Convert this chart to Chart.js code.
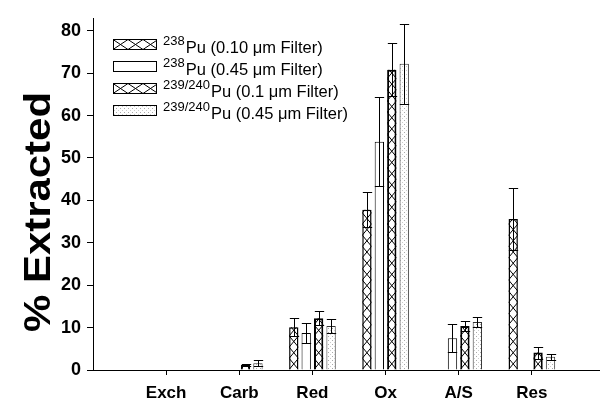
<!DOCTYPE html>
<html>
<head>
<meta charset="utf-8">
<script src="https://cdn.jsdelivr.net/npm/chart.js@4"></script>
<style>
  html, body { margin: 0; padding: 0; background: #fff; }
  canvas { display: block; }
</style>
</head>
<body>
<canvas id="chart" width="600" height="406"></canvas>
<script>
// --- data ---
const categories = ['Exch', 'Carb', 'Red', 'Ox', 'A/S', 'Res'];
const yTicks = [0, 10, 20, 30, 40, 50, 60, 70, 80];

const seriesIso = ['238', '238', '239/240', '239/240'];
const seriesText = ['Pu (0.10 \u03bcm Filter)', 'Pu (0.45 \u03bcm Filter)', 'Pu (0.1 \u03bcm Filter)', 'Pu (0.45 \u03bcm Filter)'];

const pu238_010 = [null, null, 10.1, 37.8, null, 35.6];
const pu238_010Err = [null, null, 2.2, 4.1, null, 7.3];
const pu238_045 = [null, null, 8.7, 53.8, 7.5, null];
const pu238_045Err = [null, null, 2.3, 10.5, 3.3, null];
const pu239_01 = [null, 1.2, 12.2, 70.8, 10.4, 4.1];
const pu239_01Err = [null, 0.2, 1.7, 6.2, 1.2, 1.4];
const pu239_045 = [null, 1.6, 10.4, 72.2, 11.3, 3.1];
const pu239_045Err = [null, 0.7, 1.6, 9.4, 1.2, 0.7];

// an empty slot on both sides of the categories, like the original axis
const pad = arr => [null, ...arr, null];
const labels = ['', ...categories, ''];

const FONT = '"Liberation Sans", Arial, sans-serif';

// light stipple for the last series
const stipple = (() => {
    const c = document.createElement('canvas');
    c.width = 4; c.height = 4;
    const g = c.getContext('2d');
    g.fillStyle = '#fff'; g.fillRect(0, 0, 4, 4);
    g.fillStyle = '#aaa'; g.fillRect(0, 0, 1, 1);
    g.fillStyle = '#ccc'; g.fillRect(2, 2, 1, 1);
    return g.createPattern(c, 'repeat');
})();

function drawZigzag(ctx, left, top, right, bottom, vertical) {
    ctx.save();
    ctx.beginPath();
    ctx.rect(left, top, right - left, bottom - top);
    ctx.clip();
    ctx.strokeStyle = '#000';
    ctx.lineWidth = 1;
    ctx.beginPath();
    if (vertical) {
        const p = (right - left) * 1.2;
        for (let yy = bottom; yy > top - p; yy -= p) {
            ctx.moveTo(left, yy); ctx.lineTo(right, yy - p);
            ctx.moveTo(right, yy); ctx.lineTo(left, yy - p);
        }
    } else {
        const p = (bottom - top) * 1.5;
        for (let xx = left; xx < right; xx += p) {
            ctx.moveTo(xx, bottom); ctx.lineTo(xx + p, top);
            ctx.moveTo(xx, top); ctx.lineTo(xx + p, bottom);
        }
    }
    ctx.stroke();
    ctx.restore();
}

// the original x axis runs a little past the right edge of the picture
const stretchX = {
    id: 'stretchX',
    afterLayout(chart) {
        const s = chart.scales.x;
        s.right = 605;
        s.width = s.right - s.left;
        s.configure();
    }
};

// X hatching drawn inside the bars of series 0 and 2
const hatchPlugin = {
    id: 'hatch',
    afterDatasetDraw(chart, args) {
        const ds = chart.data.datasets[args.index];
        if (!ds.hatched) return;
        args.meta.data.forEach((bar, j) => {
            if (ds.data[j] == null) return;
            const p = bar.getProps(['x', 'y', 'base', 'width'], true);
            drawZigzag(chart.ctx, p.x - p.width / 2, p.y, p.x + p.width / 2, p.base, true);
        });
    }
};

const errorBars = {
    id: 'errorBars',
    afterDatasetsDraw(chart) {
        const ctx = chart.ctx;
        const y = chart.scales.y;
        chart.data.datasets.forEach((ds, i) => {
            const meta = chart.getDatasetMeta(i);
            meta.data.forEach((bar, j) => {
                const v = ds.data[j], e = ds.errors[j];
                if (v == null || e == null) return;
                const top = Math.round(y.getPixelForValue(v + e)) + 0.5;
                const bot = Math.round(y.getPixelForValue(v - e)) + 0.5;
                const x = Math.round(bar.x) + 0.5;
                const half = bar.width / 2;
                ctx.save();
                ctx.strokeStyle = '#000';
                ctx.lineWidth = 1;
                ctx.beginPath();
                ctx.moveTo(x, top); ctx.lineTo(x, bot);
                ctx.moveTo(x - half, top); ctx.lineTo(x + half, top);
                ctx.moveTo(x - half, bot); ctx.lineTo(x + half, bot);
                ctx.stroke();
                ctx.restore();
            });
        });
    }
};

// legend with superscript isotope numbers + the stretched y title
const legendPlugin = {
    id: 'puLegend',
    afterDraw(chart) {
        const ctx = chart.ctx;
        const x0 = 113, w = 43, h = 10, y0 = 44, step = 22;
        chart.data.datasets.forEach((ds, i) => {
            const cy = y0 + i * step;
            const top = Math.round(cy - h / 2) + 0.5;
            ctx.save();
            ctx.fillStyle = ds.backgroundColor;
            ctx.fillRect(x0, top, w, h);
            if (ds.hatched) drawZigzag(ctx, x0, top, x0 + w, top + h, false);
            ctx.strokeStyle = '#000';
            ctx.lineWidth = 1;
            ctx.strokeRect(x0 + 0.5, top, w, h);
            ctx.fillStyle = '#000';
            ctx.textBaseline = 'alphabetic';
            ctx.font = '13px ' + FONT;
            ctx.fillText(seriesIso[i], 163, cy + 1);
            const sw = ctx.measureText(seriesIso[i]).width;
            ctx.font = '16.5px ' + FONT;
            ctx.fillText(seriesText[i], 163 + sw + 1, cy + 9);
            ctx.restore();
        });

        // y title, stretched along its length as in the original
        ctx.save();
        ctx.translate(40, 212);
        ctx.rotate(-Math.PI / 2);
        ctx.font = 'bold 36px ' + FONT;
        const tw = ctx.measureText('% Extracted').width;
        ctx.scale(240 / tw, 1);
        ctx.fillStyle = '#000';
        ctx.textAlign = 'center';
        ctx.textBaseline = 'middle';
        ctx.fillText('% Extracted', 0, 0);
        ctx.restore();
    }
};

const boldFont = size => ({ family: FONT, size: size, weight: 'bold' });

new Chart(document.getElementById('chart'), {
    type: 'bar',
    data: {
        labels: labels,
        datasets: [
            { label: '238Pu (0.10 um Filter)', data: pad(pu238_010), errors: pad(pu238_010Err),
              backgroundColor: '#fff', borderColor: '#000', borderWidth: 1.5, hatched: true },
            { label: '238Pu (0.45 um Filter)', data: pad(pu238_045), errors: pad(pu238_045Err),
              backgroundColor: '#fff', borderColor: '#000', borderWidth: 1 },
            { label: '239/240Pu (0.1 um Filter)', data: pad(pu239_01), errors: pad(pu239_01Err),
              backgroundColor: '#fff', borderColor: '#000', borderWidth: 2, hatched: true },
            { label: '239/240Pu (0.45 um Filter)', data: pad(pu239_045), errors: pad(pu239_045Err),
              backgroundColor: stipple, borderColor: '#333', borderWidth: 1 }
        ]
    },
    options: {
        responsive: false,
        animation: false,
        devicePixelRatio: 1,
        categoryPercentage: 0.68,
        barPercentage: 0.75,
        layout: { padding: { top: 18, right: 0, left: 0, bottom: 0 } },
        plugins: { legend: { display: false }, tooltip: { enabled: false } },
        scales: {
            x: {
                offset: false,
                grid: {
                    offset: false,
                    drawOnChartArea: false,
                    tickLength: 5,
                    color: c => (c.index === 0 || c.index === labels.length - 1) ? 'rgba(0,0,0,0)' : '#000'
                },
                border: { color: '#000', width: 1 },
                ticks: { color: '#000', font: boldFont(17), padding: 8, maxRotation: 0, autoSkip: false },
                afterFit: s => { s.height = 36; s.paddingLeft = 0; s.paddingRight = 0; }
            },
            y: {
                min: 0,
                max: 83,
                grid: { drawOnChartArea: false, tickLength: 6, color: '#000' },
                border: { color: '#000', width: 1 },
                ticks: { color: '#000', font: boldFont(18), padding: 6, stepSize: 10 },
                afterBuildTicks: s => { s.ticks = yTicks.map(v => ({ value: v })); },
                afterFit: s => { s.width = 93; }
            }
        }
    },
    plugins: [stretchX, hatchPlugin, errorBars, legendPlugin]
});
</script>
</body>
</html>
